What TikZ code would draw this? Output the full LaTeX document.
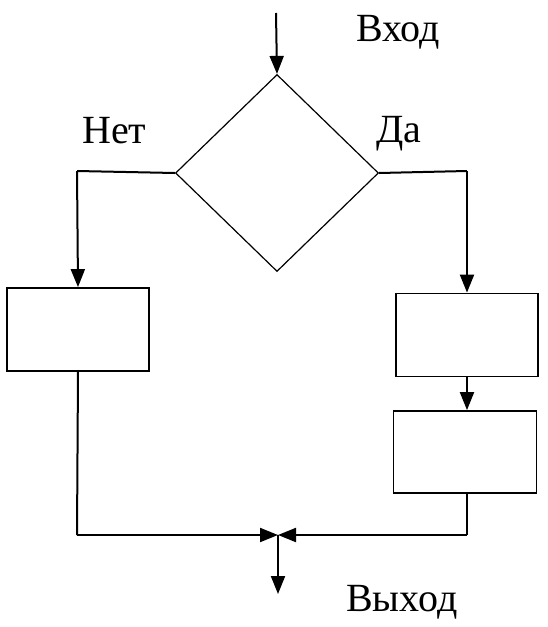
\documentclass[tikz,border=0pt]{standalone}
\usepackage{fontspec}
\setmainfont{Liberation Serif}
\usetikzlibrary{shapes.geometric,arrows.meta}
\begin{document}
\begin{tikzpicture}[x=1pt,y=-1pt,
  line/.style={line width=2pt},
  arr/.style={line width=2pt,-{Triangle[length=18pt,width=14pt]}},
  blk/.style={draw,line width=1.8pt,minimum width=142pt,minimum height=83pt,inner sep=0pt},
  lbl/.style={font=\fontsize{40}{42}\selectfont,inner sep=0pt,anchor=base west}]
\useasboundingbox (0,0) rectangle (548,627);
\node[draw,diamond,line width=1.2pt,minimum width=203pt,minimum height=197pt,inner sep=0pt,aspect=1.03] (dec) at (277,173) {};
\node[blk] (no) at (78,329.5) {};
\node[blk] (yes1) at (467,335) {};
\node[blk,minimum width=143pt,minimum height=82pt] (yes2) at (465,452) {};
\coordinate (in) at (276,13);
\coordinate (nc) at (77,171);
\coordinate (yc) at (467,171);
\coordinate (nb) at (77,535);
\coordinate (yb) at (467,535);
\coordinate (j) at (278,535);
\coordinate (out) at (278,594);
\draw[arr] (in) -- (dec.north);
\draw[line] (dec.west) -- (nc);
\draw[arr] (nc) -- (no.north);
\draw[line] (dec.east) -- (yc);
\draw[arr] (yc) -- (yes1.north);
\draw[arr] (yes1.south) -- (yes1.south |- yes2.north);
\draw[line] (no.south) -- (nb);
\draw[line] (yes2.south -| yb) -- (yb);
\draw[arr] (nb) -- (j);
\draw[arr] (yb) -- (j);
\draw[arr] (j) -- (out);
\node[lbl] (lin) at (356,41) {Вход};
\node[lbl] (lno) at (82,143) {Нет};
\node[lbl] (lyes) at (376,142) {Да};
\node[lbl] (lout) at (346,611) {Выход};
\end{tikzpicture}
\end{document}
